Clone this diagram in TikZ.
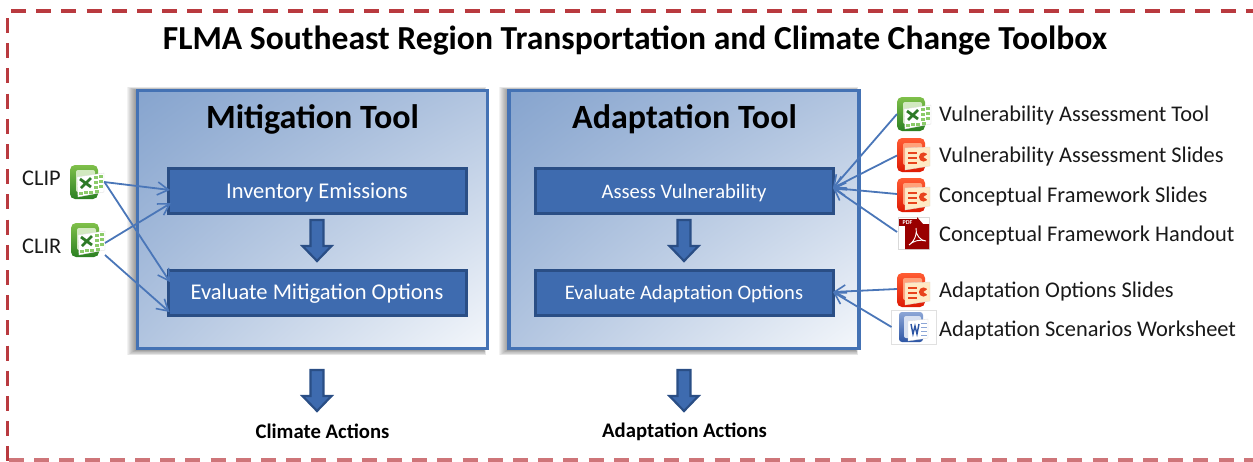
\documentclass[tikz,border=0pt]{standalone}
\usepackage{fontspec}
\setmainfont{Carlito}
\usetikzlibrary{arrows.meta,shadings}
\definecolor{framered}{HTML}{B93A3F}
\definecolor{toolborder}{HTML}{4472B4}
\definecolor{stepfill}{HTML}{3E6BAF}
\definecolor{stepborder}{HTML}{2A4E85}
\definecolor{linkblue}{HTML}{4A76B8}
\definecolor{bluetl}{HTML}{86A4CE}
\definecolor{bluemid}{HTML}{B2C5E0}
\definecolor{bluebr}{HTML}{F4F7FB}
\definecolor{xltop}{HTML}{7FC04A}
\definecolor{xlbot}{HTML}{2B8022}
\definecolor{xlmark}{HTML}{2E7A28}
\definecolor{xlcell}{HTML}{8CCB6A}
\definecolor{pptop}{HTML}{FF5C33}
\definecolor{ppbot}{HTML}{DE1A04}
\definecolor{ppmark}{HTML}{E8431C}
\definecolor{ppsheet}{HTML}{FFE9C4}
\definecolor{wdtop}{HTML}{8CA6D6}
\definecolor{wdbot}{HTML}{2D55A4}
\tikzset{
  x=1pt,y=-1pt,
  toolbox/.style={rectangle,draw=toolborder,line width=3.5pt,minimum width=350pt,minimum height=258pt,
    outer sep=0pt,inner sep=0pt,upper left=bluetl,upper right=bluemid,lower left=bluemid,lower right=bluebr},
  stepbox/.style={rectangle,draw=stepborder,fill=stepfill,line width=3pt,minimum width=298pt,minimum height=45pt,
    outer sep=0pt,inner sep=0pt,text=white,text height=18pt,text depth=4pt},
  link/.style={draw=linkblue,line width=1.8pt,-{Straight Barb[length=11pt,width=13pt,line width=1.6pt]}},
  icon/.style={rectangle,minimum width=34pt,minimum height=34pt,inner sep=0pt,outer sep=0pt},
  label/.style={anchor=west,inner sep=0pt,text=black!90,font=\fontsize{22.4}{24}\selectfont},
  tooltitle/.style={inner sep=0pt,text=black,font=\bfseries\fontsize{34}{36}\selectfont},
  actionlabel/.style={inner sep=0pt,text=black,font=\bfseries\fontsize{20.7}{22}\selectfont},
  framedash/.style={draw=framered,line width=3.5pt,dash pattern=on 15pt off 10.2pt},
  blockarrow/.pic={
    \draw[fill=stepfill,draw=stepborder,line width=2.2pt,line join=miter]
      (-6.5,0)--(6.5,0)--(6.5,26)--(14.5,26)--(0,41)--(-14.5,26)--(-6.5,26)--cycle;
  },
  xlsicon/.pic={
    \shade[rounded corners=5pt,top color=xltop,bottom color=xlbot]
      (-17,-17) rectangle (11,17);
    \fill[rounded corners=2pt,xltop!35!white] (-11,-12) rectangle (8,10);
    \fill[white,draw=black!15,line width=.3pt] (-10,-5)--(17,-9)--(17,10)--(-9,15)--cycle;
    \draw[xlmark,line width=2.8pt] (-7,-3)--(4,5) (4,-4)--(-6,6);
    \foreach \cx/\cy in {9/-5,14/-5.5,9/0,14/-.5,9/5,14/4.5,-6/11,-1/10.5,4/10,10/9.5}
      \fill[xlcell] (\cx-1.8,\cy-1.5) rectangle (\cx+1.8,\cy+1.5);
  },
  ppticon/.pic={
    \shade[rounded corners=5pt,top color=pptop,bottom color=ppbot]
      (-17,-17) rectangle (11,17);
    \fill[rounded corners=2pt,pptop!50!ppsheet] (-11,-12) rectangle (8,10);
    \fill[ppsheet,draw=black!15,line width=.3pt] (-9,-7)--(16,-8)--(16,11)--(-9,15)--cycle;
    \draw[ppmark,line width=1.6pt] (-6,-2)--(3,-2) (-6,3)--(3,3) (-6,8)--(3,8);
    \fill[ppmark] (9.5,2) circle (4.6pt);
    \fill[ppsheet] (9.5,2)--(14.5,-1.5)--(14.5,5.5)--cycle;
  },
  wordicon/.pic={
    \shade[rounded corners=3pt,top color=wdtop,bottom color=wdbot]
      (-15,-15) rectangle (9,15);
    \fill[rounded corners=2pt,wdtop!35!white] (-10,-11) rectangle (7,11);
    \fill[white,draw=black!15,line width=.3pt] (-6,-6)--(14,-8)--(14,11)--(-6,14)--cycle;
    \draw[wdbot,line width=1.4pt] (-3,-3)--(-1,7)--(1,-1)--(3,7)--(5,-3);
    \foreach \cy in {-4,0,4,8}
      \draw[wdtop,line width=1pt] (7,\cy)--(13,\cy);
  },
}
\begin{document}
\begin{tikzpicture}
\useasboundingbox (0,0) rectangle (1253,461);
% dashed frame
\draw[framedash] (11,11)--(1253,11);
\draw[framedash] (7.5,18)--(7.5,461);
\draw[framedash,draw=framered!70!white] (9,460.2)--(1253,460.2);
% soft shadows
\foreach \d in {1,...,9}{
  \fill[black,opacity=.05] (136-\d,90-.35*\d) rectangle (484+.2*\d,350+.6*\d);
  \fill[black,opacity=.05] (508-\d,90-.35*\d) rectangle (856+.2*\d,350+.6*\d);
}
\node[inner sep=0pt,text=black,font=\bfseries\fontsize{33.6}{36}\selectfont] (title) at (635,41) {FLMA Southeast Region Transportation and Climate Change Toolbox};
% tools
\node[toolbox] (mit) at (312.3,219.5) {};
\node[toolbox] (ada) at (684,219.5) {};
\node[tooltitle] (mittitle) at (312.5,119) {Mitigation Tool};
\node[tooltitle] (adatitle) at (684.5,119) {Adaptation Tool};
% steps
\node[stepbox,font=\fontsize{22.5}{24}\selectfont] (inv) at (317,191) {Inventory Emissions};
\node[stepbox,font=\fontsize{22.5}{24}\selectfont] (evm) at (317,292.5) {Evaluate Mitigation Options};
\node[stepbox,font=\fontsize{20.6}{24}\selectfont] (vul) at (684,191) {Assess Vulnerability};
\node[stepbox,font=\fontsize{20.6}{24}\selectfont] (eva) at (684,292.5) {Evaluate Adaptation Options};
% block arrows
\pic at (317,220) {blockarrow};
\pic at (684,220) {blockarrow};
\pic at (317,370) {blockarrow};
\pic at (684,370) {blockarrow};
\node[actionlabel] (climact) at (322.5,431) {Climate Actions};
\node[actionlabel] (adaact) at (684.5,432) {Adaptation Actions};
% left labels and icons
\node[label] (cliplab) at (22,178) {CLIP};
\node[label] (clirlab) at (22,246) {CLIR};
\node[icon] (clip) at (87,182) {};
\node[icon] (clir) at (88,240) {};
\pic at (clip) {xlsicon};
\pic at (clir) {xlsicon};
% right icons
\node[icon] (i1) at (914,114) {};
\node[icon] (i2) at (914,155) {};
\node[icon] (i3) at (914,195) {};
\node[icon] (i4) at (914,233) {};
\node[icon] (i5) at (914,290) {};
\node[rectangle,draw=black!12,fill=white,line width=.5pt,minimum width=45pt,minimum height=34pt,inner sep=0pt,outer sep=0pt] (i6) at (914,327) {};
\pic at (i1) {xlsicon};
\pic at (i2) {ppticon};
\pic at (i3) {ppticon};
\pic at (i5) {ppticon};
\pic at (i6) {wordicon};
% pdf icon
\fill[white,draw=black!15,line width=.4pt] (898,217) rectangle (929,249);
\fill[red!60!black] (905,224)--(917,224)--(917,217)--(923,224)--(929,224)--(929,249)--(905,249)--cycle;
\fill[red!60!black] (899,219) rectangle (917,226);
\node[inner sep=0pt,text=white,font=\bfseries\fontsize{6}{6}\selectfont] (pdftag) at (907.5,222.5) {PDF};
\draw[white,line width=.9pt] (909,245) .. controls (916,240) and (917,232) .. (916,228) .. controls (915,235) and (921,241) .. (926,241) .. controls (920,239) and (913,241) .. (909,245);
% right labels
\node[label] (l1) at (939,116) {Vulnerability Assessment Tool};
\node[label] (l2) at (939,157) {Vulnerability Assessment Slides};
\node[label] (l3) at (939,197) {Conceptual Framework Slides};
\node[label] (l4) at (939,236) {Conceptual Framework Handout};
\node[label] (l5) at (939,292) {Adaptation Options Slides};
\node[label] (l6) at (939,331) {Adaptation Scenarios Worksheet};
% connectors
\draw[link] (clip.east) -- ([xshift=2pt,yshift=1pt]inv.west);
\draw[link] ([xshift=.5pt]clip.east) -- ([xshift=2pt,yshift=10.5pt]evm.west);
\draw[link] ([yshift=-3pt]clir.east) -- ([xshift=3pt,yshift=-12pt]inv.west);
\draw[link] ([yshift=-15pt]clir.east) -- ([xshift=1.5pt,yshift=-19.5pt]evm.west);
\draw[link] ([xshift=0pt]i1.west) -- ([yshift=3pt]vul.east);
\draw[link] ([yshift=-.5pt]i2.west) -- ([yshift=3pt]vul.east);
\draw[link] ([yshift=1pt]i3.west) -- ([yshift=3pt]vul.east);
\draw[link] ([yshift=1pt]i4.west) -- ([yshift=3pt]vul.east);
\draw[link] ([yshift=1pt]i5.west) -- ([yshift=.5pt]eva.east);
\draw[link] (i6.west) -- ([yshift=.5pt]eva.east);
\end{tikzpicture}
\end{document}
